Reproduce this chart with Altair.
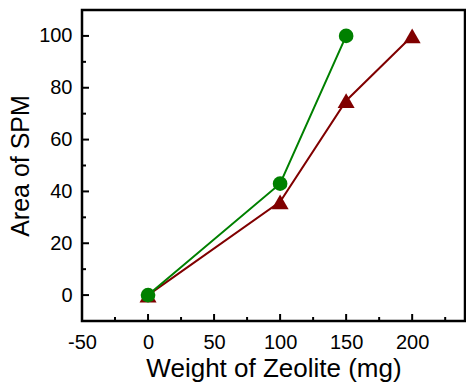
import altair as alt
import pandas as pd

# data
green_x = [0, 100, 150]
green_y = [0, 43, 100]
red_x = [0, 100, 150, 200]
red_y = [0, 36, 75, 100]

x_major = [-50, 0, 50, 100, 150, 200]
x_minor = [-25, 25, 75, 125, 175, 225]
y_major = [0, 20, 40, 60, 80, 100]
y_minor = [10, 30, 50, 70, 90]

rows = []
for x, y in zip(red_x, red_y):
    rows.append({"w": x, "a": y, "s": "B"})
for x, y in zip(green_x, green_y):
    rows.append({"w": x, "a": y, "s": "A"})
df = pd.DataFrame(rows)

W, H = 383, 311
FONT = "Liberation Sans"
xs = alt.Scale(domain=[-50, 240], nice=False, zero=False)
ys = alt.Scale(domain=[-10, 110], nice=False, zero=False)
col = alt.Scale(domain=["A", "B"], range=["#008000", "#800000"])
shp = alt.Scale(domain=["A", "B"], range=["circle", "triangle-up"])
szs = alt.Scale(domain=["A", "B"], range=[215, 290])

LBL = "replace(datum.label, '\u2212', '-')"

x_axis = alt.Axis(values=x_major, orient="bottom", ticks=False, tickSize=0,
                  domain=False, grid=False,
                  labelPadding=11, labelFontSize=20, labelFont=FONT,
                  labelColor="black", title="Weight of Zeolite (mg)",
                  titleFontSize=26, titleFont=FONT, titleFontWeight="normal",
                  titleColor="black", titlePadding=3, labelFlush=False,
                  labelExpr=LBL)
y_axis = alt.Axis(values=y_major, orient="left", ticks=False, tickSize=0,
                  domain=False, grid=False,
                  labelPadding=10, labelFontSize=20, labelFont=FONT,
                  labelColor="black", title="Area of SPM",
                  titleFontSize=25, titleFont=FONT, titleFontWeight="normal",
                  titleColor="black", titlePadding=5, labelFlush=False)

lines = alt.Chart(df).mark_line(strokeWidth=2).encode(
    x=alt.X("w:Q", scale=xs, axis=x_axis),
    y=alt.Y("a:Q", scale=ys, axis=y_axis),
    color=alt.Color("s:N", scale=col, legend=None),
    detail="s:N",
)

points = alt.Chart(df).mark_point(filled=True, opacity=1).encode(
    x=alt.X("w:Q", scale=xs),
    y=alt.Y("a:Q", scale=ys),
    color=alt.Color("s:N", scale=col, legend=None),
    shape=alt.Shape("s:N", scale=shp, legend=None),
    size=alt.Size("s:N", scale=szs, legend=None),
)

def xticks(vals, length):
    return alt.Chart(pd.DataFrame({"v": vals})).mark_rule(color="black", strokeWidth=2).encode(
        x=alt.X("v:Q", scale=xs), y=alt.value(H), y2=alt.value(H - length))

def yticks(vals, length):
    return alt.Chart(pd.DataFrame({"v": vals})).mark_rule(color="black", strokeWidth=2).encode(
        y=alt.Y("v:Q", scale=ys), x=alt.value(0), x2=alt.value(length))

chart = alt.layer(
    lines, points,
    xticks(x_major, 7), xticks(x_minor, 4),
    yticks(y_major, 7), yticks(y_minor, 4),
).properties(
    width=W, height=H,
    padding={"left": 82, "top": 10, "right": 1, "bottom": 61},
    autosize=alt.AutoSizeParams(type="none"),
    background="white",
).configure_view(stroke="black", strokeWidth=2.5)

chart.save("out.html", embed_options={"renderer": "svg", "actions": False})
